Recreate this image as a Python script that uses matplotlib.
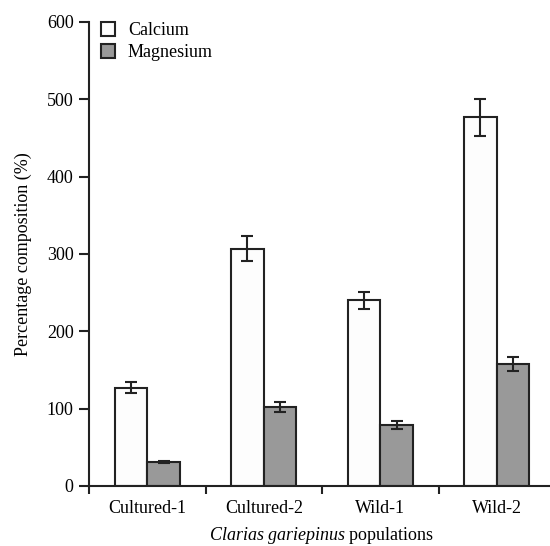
import matplotlib
matplotlib.use("Agg")
import matplotlib.pyplot as plt
import numpy as np

plt.rcParams['font.family'] = ['Liberation Serif', 'DejaVu Serif']
plt.rcParams['mathtext.fontset'] = 'custom'
plt.rcParams['mathtext.rm'] = 'Liberation Serif'
plt.rcParams['mathtext.it'] = 'Liberation Serif:italic'

categories = ["Cultured-1", "Cultured-2", "Wild-1", "Wild-2"]
calcium = [127, 307, 240, 477]
calcium_err = [7, 16, 11, 24]
magnesium = [31, 102, 79, 158]
magnesium_err = [1.5, 6, 5, 9]
yticks = [0, 100, 200, 300, 400, 500, 600]

W, H = 550, 546
fig = plt.figure(figsize=(W/100, H/100), dpi=100)
left, right, bottom, top = 89, 555, 486, 22
ax = fig.add_axes([left/W, 1 - bottom/H, (right-left)/W, (bottom-top)/H])

x = np.arange(len(categories))
bw = 0.28
edge = '#222222'
ekw = dict(ecolor=edge, elinewidth=1.5, capsize=4, capthick=1.5)
ax.bar(x - bw/2, calcium, bw, yerr=calcium_err, color='#fdfdfd', edgecolor=edge,
       linewidth=1.5, label='Calcium', error_kw=ekw)
ax.bar(x + bw/2, magnesium, bw, yerr=magnesium_err, color='#999999', edgecolor=edge,
       linewidth=1.5, label='Magnesium', error_kw=ekw)

ax.set_xlim(-0.5, len(categories) - 0.5)
ax.set_ylim(0, 600)
ax.set_yticks(yticks)
ax.set_xticks(x)
ax.set_xticklabels(categories)
ax.set_xticks(np.arange(len(categories) + 1) - 0.5, minor=True)
ax.tick_params(axis='x', which='major', length=0, labelsize=13, pad=10)
ax.tick_params(axis='x', which='minor', length=6, width=1.5, color=edge)
ax.tick_params(axis='y', length=7, width=1.5, color=edge, labelsize=13, pad=4)

for s in ['top', 'right']:
    ax.spines[s].set_visible(False)
for s in ['left', 'bottom']:
    ax.spines[s].set_linewidth(1.5)
    ax.spines[s].set_color(edge)

ax.set_ylabel('Percentage composition (%)', fontsize=13, labelpad=11)
ax.set_xlabel(r'$\it{Clarias\ gariepinus}$ populations', fontsize=13, labelpad=6)

leg = ax.legend(loc='upper left', bbox_to_anchor=(0.01, 1.015), frameon=False,
                fontsize=13, handlelength=0.8, handleheight=0.8,
                handletextpad=0.7, labelspacing=0.25, borderaxespad=0)

fig.savefig('out.png', dpi=100)
